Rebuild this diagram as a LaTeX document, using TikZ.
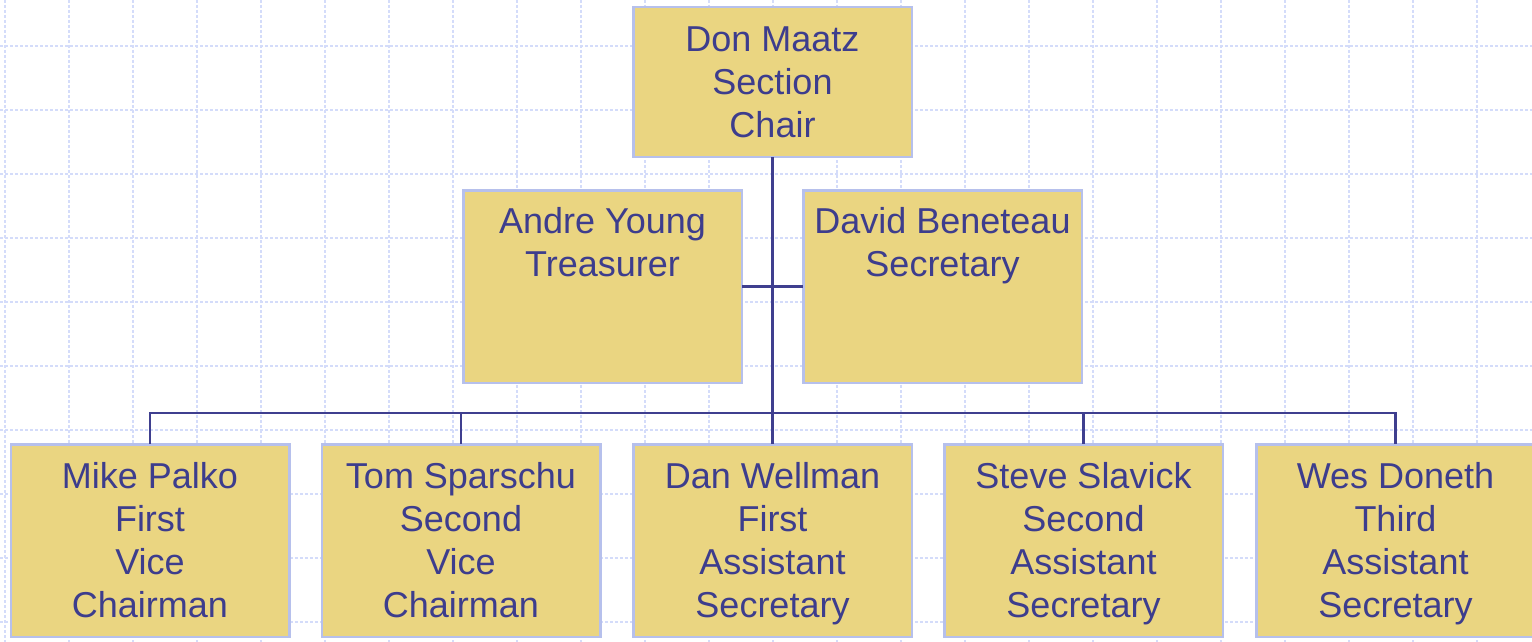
\documentclass[tikz,border=0pt]{standalone}
\usepackage{fontspec}
\setmainfont{Liberation Sans}
\usetikzlibrary{calc}
\definecolor{gridc}{HTML}{D4DCFA}
\definecolor{boxfill}{HTML}{EAD581}
\definecolor{boxline}{HTML}{B6C0EC}
\definecolor{linec}{HTML}{3F3F8F}
\definecolor{textc}{HTML}{3D3D8D}
\newcommand\orglines[1]{\begin{tabular}[t]{@{}c@{}}#1\end{tabular}}
\begin{document}
\begin{tikzpicture}[x=1pt,y=-1pt,
  orgbox/.style={draw=boxline, line width=2.5pt, fill=boxfill, minimum width=278.5pt, minimum height=192.5pt, inner sep=0pt, outer sep=0pt},
  orgtext/.style={anchor=base, inner sep=0pt, text=textc, font=\fontsize{36}{43}\selectfont},
  conn/.style={draw=linec, line width=2.7pt},
  gridline/.style={draw=gridc, line width=1.1pt, dash pattern=on 3pt off 2pt}]
\useasboundingbox (0,0) rectangle (1532,642);
\fill[white] (0,0) rectangle (1532,642);
% background grid
\foreach \i in {0,...,23} \draw[gridline] (5+64*\i,0) -- (5+64*\i,642);
\foreach \j in {0,...,9} \draw[gridline] (0,46+64*\j) -- (1532,46+64*\j);
% boxes
\node[orgbox, minimum height=149.5pt] (don) at (772.5,82) {};
\node[orgbox] (andre) at (602.5,286.5) {};
\node[orgbox] (david) at (942.5,286.5) {};
\node[orgbox] (mike) at (150,540.5) {};
\node[orgbox] (tom) at (461,540.5) {};
\node[orgbox] (dan) at (772.5,540.5) {};
\node[orgbox] (steve) at (1083.5,540.5) {};
\node[orgbox] (wes) at (1395.5,540.5) {};
% connectors
\coordinate (bus) at (772.5,413);
\draw[conn] (don.south) -- (bus);
\draw[conn] (andre.east) -- (david.west);
\foreach \b in {mike,tom,dan,steve,wes} \draw[conn] (bus) -| (\b.north);
% texts
\node[orgtext] (tdon) at ($(don.north)+(0,44.5)$) {\orglines{Don Maatz\\Section\\Chair}};
\node[orgtext] (tandre) at ($(andre.north)+(0,43.5)$) {\orglines{Andre Young\\Treasurer}};
\node[orgtext] (tdavid) at ($(david.north)+(0,43.5)$) {\orglines{David Beneteau\\Secretary}};
\node[orgtext] (tmike) at ($(mike.north)+(0,44.5)$) {\orglines{Mike Palko\\First\\Vice\\Chairman}};
\node[orgtext] (ttom) at ($(tom.north)+(0,44.5)$) {\orglines{Tom Sparschu\\Second\\Vice\\Chairman}};
\node[orgtext] (tdan) at ($(dan.north)+(0,44.5)$) {\orglines{Dan Wellman\\First\\Assistant\\Secretary}};
\node[orgtext] (tsteve) at ($(steve.north)+(0,44.5)$) {\orglines{Steve Slavick\\Second\\Assistant\\Secretary}};
\node[orgtext] (twes) at ($(wes.north)+(0,44.5)$) {\orglines{Wes Doneth\\Third\\Assistant\\Secretary}};
\end{tikzpicture}
\end{document}
